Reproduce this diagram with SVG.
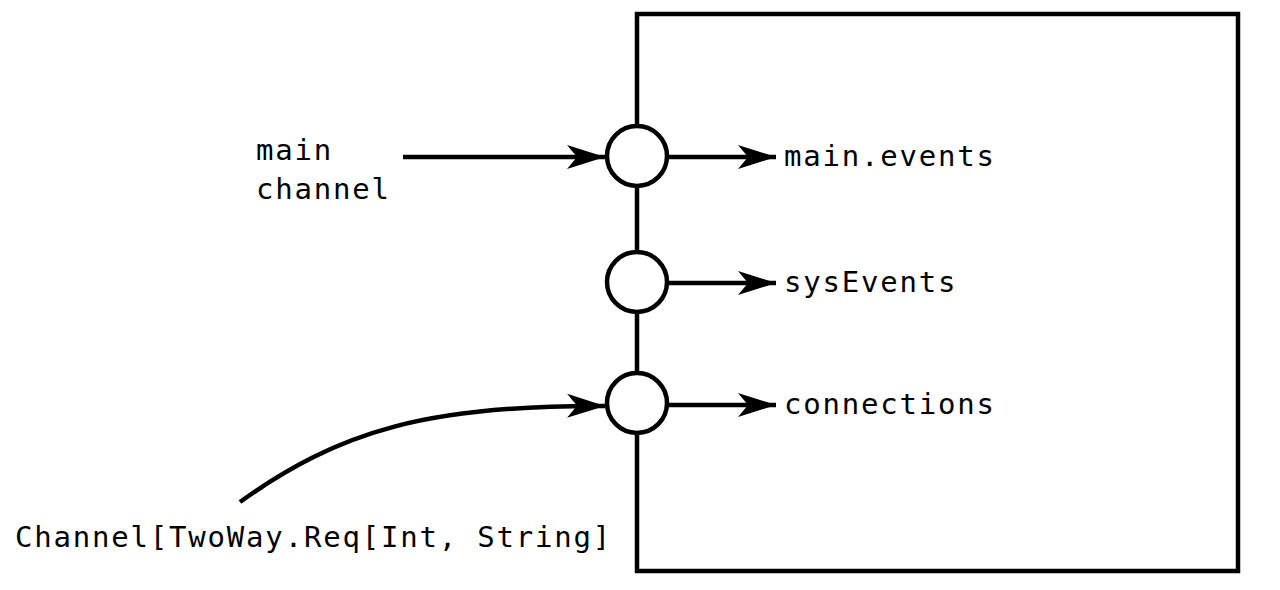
<svg xmlns="http://www.w3.org/2000/svg" width="1280" height="590" viewBox="0 0 1280 590">
<style>
.t{font-family:"DejaVu Sans Mono","Liberation Mono",monospace;font-size:29px;letter-spacing:1.8px;fill:#000}
.ln{stroke:#000;stroke-width:4.5;fill:none}
.port{stroke:#000;stroke-width:4.5;fill:#fff}
</style>
<defs>
<marker id="ah" markerUnits="userSpaceOnUse" markerWidth="42" markerHeight="28" refX="38" refY="14" orient="auto">
<path d="M0,2 L38,14 L0,26 L10,14 Z" fill="#000"/>
</marker>
</defs>
<rect width="1280" height="590" fill="#fff"/>
<g id="component">
<rect x="637" y="14" width="601" height="557" class="ln"/>
</g>
<g id="connectors">
<line x1="403" y1="157" x2="605" y2="157" class="ln" marker-end="url(#ah)"/>
<path d="M240,502 C340,430 430,405 605,406" class="ln" marker-end="url(#ah)"/>
<line x1="667" y1="157" x2="776" y2="157" class="ln" marker-end="url(#ah)"/>
<line x1="667" y1="283" x2="776" y2="283" class="ln" marker-end="url(#ah)"/>
<line x1="667" y1="405" x2="776" y2="405" class="ln" marker-end="url(#ah)"/>
</g>
<g id="port-main"><circle cx="637" cy="156" r="30" class="port"/></g>
<g id="port-sys"><circle cx="637" cy="282" r="30" class="port"/></g>
<g id="port-conn"><circle cx="637" cy="403" r="30" class="port"/></g>
<g id="label-main-channel">
<text class="t" x="256" y="160">main</text>
<text class="t" x="256" y="199">channel</text>
</g>
<g id="label-main-events"><text class="t" x="784" y="166">main.events</text></g>
<g id="label-sysEvents"><text class="t" x="784" y="292">sysEvents</text></g>
<g id="label-connections"><text class="t" x="784" y="414">connections</text></g>
<g id="label-channel-type"><text class="t" x="15" y="547">Channel[TwoWay.Req[Int, String]</text></g>
</svg>
